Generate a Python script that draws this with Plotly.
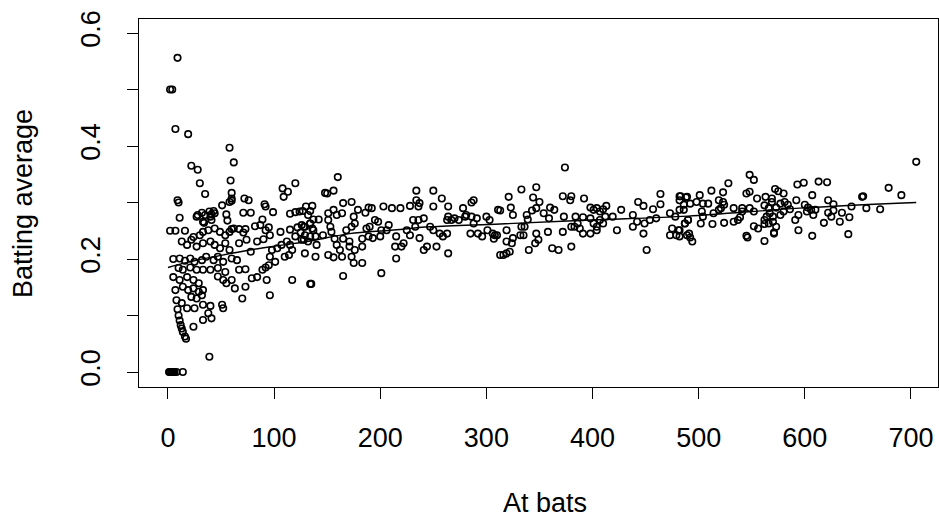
import plotly.graph_objects as go

# ---- scatter data (at bats, batting average) ----
at_bats = [
    1, 2, 3, 4, 5, 6, 8, 14,
    9, 4, 2, 7, 19, 58, 62, 22, 28, 30, 59, 35, 60, 108, 113, 120, 9, 72, 76,
    60, 60, 10, 91, 92, 51, 71, 78, 99, 115, 120, 127, 134, 136, 11, 28, 32, 35, 39, 41, 43, 44, 40, 34, 55, 56,
    58, 41, 33, 27, 2, 7, 16,
    24, 30, 33, 38, 44, 49, 54, 58, 62,
    13, 18, 22, 27, 33, 40, 44, 49, 54, 58,
    5, 11, 16, 21, 25, 32, 36, 43, 47, 52, 60,
    10, 14, 21, 27, 33, 40, 47, 54,
    5, 11, 18, 24, 29, 47, 52, 55,
    7, 14, 19, 24, 29, 33, 22, 27, 32,
    8, 13, 18, 25, 33, 40, 51, 52,
    9, 10, 11, 12, 13, 14, 16, 17,
    38, 33, 24, 41, 39,
    109, 89,
    60, 67, 71, 73, 82, 87, 92, 95, 96, 106,
    115, 122, 126, 129, 134, 125, 120, 128, 134, 136,
    67, 74, 78, 84, 90, 107, 112, 115, 98, 103, 117, 110, 114, 101, 96,
    65, 67, 73, 60, 63, 73, 70, 79, 84, 89, 92, 95, 93, 96, 117, 134,
    160, 148, 150, 156, 234, 250, 288, 286,
    130, 124, 132, 137, 142, 128, 134, 137, 129, 126, 132, 139, 140, 129, 139, 146,
    151, 153, 156, 159, 164, 165, 151, 154, 157, 159, 162, 151, 156, 164, 165, 168,
    173, 175, 176, 173, 171, 171, 173, 176, 183, 183, 183, 175, 179, 186, 189, 192,
    195, 190, 187, 189, 193, 198, 201, 200, 203, 206, 208, 211, 215, 219, 214, 215,
    220, 222, 225, 228, 231, 233, 228, 234, 236, 237, 236, 241, 237, 241, 244, 247,
    250, 250, 256, 253, 258, 259, 263, 264, 264, 263, 264, 267, 270, 274, 278, 280,
    281, 285, 286, 288, 291, 292, 296, 300, 301, 306, 310, 311, 313, 135, 165, 201,
    374, 333, 347, 321, 344, 350, 372, 380, 379, 392,
    313, 323, 325, 338, 339, 343, 347, 354, 360, 364, 359, 373, 384, 391, 386, 398,
    401, 404, 407, 410, 413, 412, 407, 398, 401, 404, 410, 419, 427, 438, 443, 448,
    457, 464, 464, 460, 454, 449, 442, 438, 473, 478, 482, 486, 482, 483, 489, 490,
    487, 481, 475, 473, 479, 489, 448, 451, 423, 404, 398, 391, 388, 383, 380, 380,
    372, 368, 362, 358, 347, 349, 346, 340, 335, 336, 333, 332, 325, 324, 319, 319,
    308, 307, 316, 319, 322, 303,
    705, 679, 691, 654, 655, 548, 552, 528, 593, 599, 613, 621, 512, 523, 545, 548,
    572, 575, 580, 607, 482, 488, 501, 555, 563, 569, 622, 627, 492, 498, 504, 509,
    519, 523, 524, 521, 486, 503, 504, 514, 519, 533, 541, 541, 548, 552,
    562, 566, 567, 569, 573, 577, 581, 584, 586, 580, 577, 570, 564, 562, 566, 570,
    573, 571, 562, 592, 600, 603, 606, 602, 610, 608, 594, 591, 594, 607,
    622, 627, 635, 625, 633, 642, 644, 658, 671, 618, 641,
    482, 482, 491, 492, 494, 487, 490, 502, 513, 524, 533, 537, 539, 545, 546, 552,
    556, 562, 571,
]
batting_avg = [
    0, 0, 0, 0, 0, 0, 0, 0,
    .556, .500, .500, .430, .421, .397, .371, .365, .358, .334, .339, .315, .317, .325, .319, .334, .304, .307, .304,
    .307, .303, .300, .297, .293, .295, .282, .282, .283, .280, .283, .285, .285, .294, .273, .278, .282, .278, .284, .279, .285, .281, .275, .264, .279, .268,
    .301, .269, .266, .275, .250, .250, .250,
    .239, .242, .248, .251, .254, .248, .242, .248, .254,
    .231, .225, .234, .222, .228, .231, .225, .219, .228, .216,
    .200, .201, .197, .201, .195, .198, .204, .198, .204, .195, .201,
    .184, .181, .185, .181, .181, .181, .184, .177,
    .168, .163, .168, .163, .157, .169, .163, .157,
    .145, .151, .145, .148, .142, .145, .133, .130, .136,
    .127, .122, .113, .113, .119, .117, .119, .113,
    .111, .100, .091, .083, .077, .071, .063, .059,
    .104, .092, .080, .095, .027,
    .310, .270,
    .253, .253, .247, .253, .258, .260, .251, .256, .242, .248,
    .252, .256, .260, .257, .263, .247, .240, .234, .240, .254,
    .228, .234, .213, .231, .235, .225, .231, .225, .216, .219, .216, .204, .207, .195, .204,
    .198, .181, .182, .163, .148, .151, .130, .166, .168, .181, .185, .189, .163, .136, .163, .156,
    .345, .317, .316, .321, .321, .321, .304, .300,
    .293, .284, .278, .270, .270, .257, .263, .251, .242, .234, .231, .240, .225, .210, .204, .242,
    .269, .257, .287, .278, .281, .299, .281, .248, .236, .225, .216, .207, .203, .204, .236, .251,
    .301, .275, .263, .257, .231, .222, .204, .216, .236, .222, .193, .193, .287, .282, .291, .290,
    .269, .257, .254, .240, .237, .266, .251, .240, .293, .251, .260, .290, .240, .290, .222, .201,
    .222, .228, .251, .294, .269, .257, .242, .304, .293, .299, .269, .272, .237, .216, .222, .257,
    .293, .251, .245, .222, .307, .240, .245, .293, .275, .269, .210, .269, .272, .269, .290, .275,
    .278, .245, .275, .263, .272, .245, .240, .275, .251, .245, .242, .287, .207, .156, .170, .175,
    .362, .323, .327, .310, .309, .301, .311, .311, .304, .307,
    .286, .291, .278, .278, .270, .286, .290, .281, .291, .287, .272, .275, .275, .274, .263, .291,
    .287, .290, .284, .288, .294, .275, .269, .272, .263, .257, .263, .275, .287, .278, .301, .294,
    .288, .297, .315, .272, .269, .263, .266, .257, .281, .275, .287, .296, .304, .311, .310, .269,
    .263, .251, .254, .242, .242, .242, .245, .216, .251, .251, .245, .245, .254, .257, .257, .222,
    .248, .216, .219, .248, .245, .234, .228, .216, .242, .257, .257, .242, .237, .228, .231, .251,
    .242, .236, .207, .210, .213, .269,
    .372, .326, .313, .310, .311, .349, .340, .334, .332, .335, .337, .336, .321, .318, .316, .319,
    .324, .320, .316, .313, .311, .309, .313, .307, .310, .307, .304, .297, .298, .301, .298, .298,
    .304, .301, .296, .290, .287, .284, .275, .281, .287, .290, .290, .284, .290, .284,
    .295, .290, .281, .301, .291, .298, .301, .296, .288, .284, .278, .275, .275, .269, .263, .266,
    .257, .245, .262, .304, .296, .291, .287, .284, .287, .278, .278, .269, .251, .241,
    .282, .286, .282, .275, .266, .274, .293, .290, .288, .264, .244,
    .251, .240, .245, .238, .231, .263, .269, .263, .262, .264, .266, .269, .274, .241, .238, .258,
    .254, .232, .247,
]

# ---- smooth trend line ----
trend_ab = [0, 20, 46, 77, 109, 134, 171, 210, 247, 313, 398, 490, 595, 705]
trend_avg = [.185, .195, .205, .216, .225, .232, .245, .251, .257, .262, .269, .276, .290, .300]

x_ticks = [0, 100, 200, 300, 400, 500, 600, 700]
y_ticks = [0.0, 0.1, 0.2, 0.3, 0.4, 0.5, 0.6]
y_tick_text = ["0.0", "", "0.2", "", "0.4", "", "0.6"]

FONT = "Liberation Sans, Arial, Helvetica, sans-serif"
FS = 27

fig = go.Figure()
fig.add_trace(go.Scatter(
    x=at_bats, y=batting_avg, mode="markers",
    marker=dict(symbol="circle-open", size=6.5, color="black", line=dict(width=1.6, color="black")),
    showlegend=False, hoverinfo="x+y",
))
fig.add_trace(go.Scatter(
    x=trend_ab, y=trend_avg, mode="lines", line=dict(color="black", width=1.4, shape="spline"),
    showlegend=False, hoverinfo="skip",
))

axis_common = dict(
    showline=True, linecolor="black", linewidth=1.3, mirror=True,
    ticks="outside", ticklen=11, tickwidth=1.3, tickcolor="black",
    showgrid=False, zeroline=False,
    tickfont=dict(family=FONT, size=FS, color="black"),
)
fig.update_layout(
    width=939, height=517,
    margin=dict(l=139, r=1, t=19, b=130),
    paper_bgcolor="white", plot_bgcolor="white",
    xaxis=dict(range=[-27.3, 725.5], tickvals=x_ticks, ticktext=[str(v) for v in x_ticks],
               ticklabelstandoff=15, **axis_common),
    yaxis=dict(range=[-0.0265, 0.6248], tickvals=y_ticks, ticktext=y_tick_text,
               tickangle=-90, ticklabelstandoff=16, **axis_common),
    annotations=[
        dict(text="At bats", xref="paper", yref="paper", x=(545 - 139) / 799, y=(387 - 503) / 368,
             xanchor="center", yanchor="middle", showarrow=False, height=26, valign="middle",
             font=dict(family=FONT, size=FS, color="black")),
        dict(text="Batting average", xref="paper", yref="paper", x=(23 - 139) / 799, y=(387 - 204) / 368,
             xanchor="center", yanchor="middle", textangle=-90, showarrow=False,
             font=dict(family=FONT, size=FS, color="black")),
    ],
)
fig.write_html("out.html", config={"displayModeBar": False},
               post_script="document.body.style.margin='0';document.body.style.overflow='hidden';")
